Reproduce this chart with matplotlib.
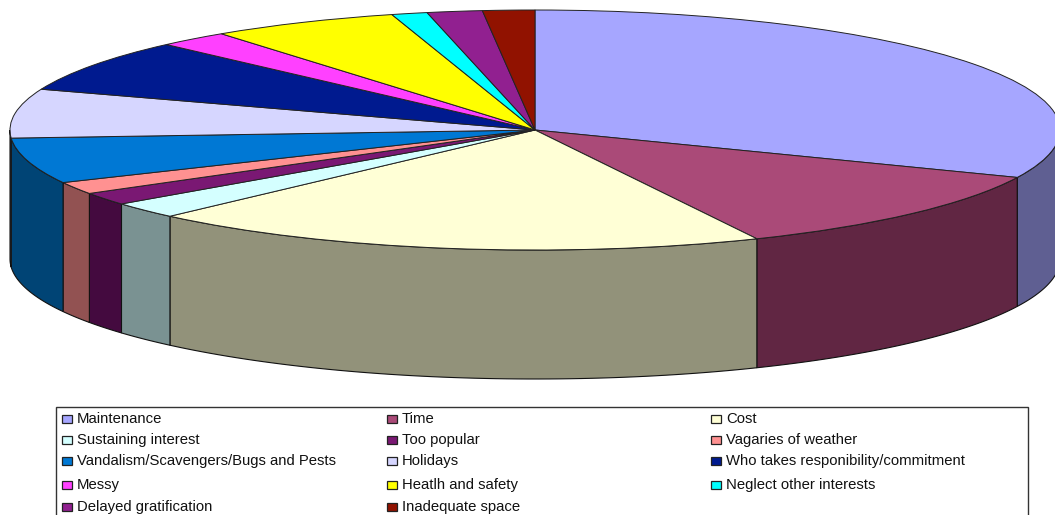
import numpy as np
import matplotlib
matplotlib.use('Agg')
import matplotlib.pyplot as plt
from matplotlib.patches import Rectangle

labels = ['Maintenance', 'Time', 'Cost', 'Sustaining interest', 'Too popular',
          'Vagaries of weather', 'Vandalism/Scavengers/Bugs and Pests', 'Holidays',
          'Who takes responibility/commitment', 'Messy', 'Heatlh and safety',
          'Neglect other interests', 'Delayed gratification', 'Inadequate space']
values = [31.5, 11.6, 19.2, 2.2, 1.7, 1.65, 6.15, 6.6, 7.1, 2.2, 5.8, 1.1, 1.7, 1.6]
top_colors = ['#A6A6FF', '#AA4A78', '#FFFFD6', '#D4FFFF', '#7A1873', '#FF9191', '#0078D4',
              '#D6D6FF', '#001A8F', '#FF40FF', '#FFFF00', '#00FFFF', '#912090', '#911200']
side_colors = ['#5F5F92', '#612643', '#92927A', '#7A9292', '#440A3F', '#925252', '#004475',
               '#7A7A92', '#000F52', '#922492', '#929200', '#009292', '#531252', '#530A00']

# pixel geometry of the disc
cx, cy = 535, 130
rx, ry = 525, 120
depth = 129
W, H = 1055, 515

fig = plt.figure(figsize=(W/100, H/100), dpi=100)
plt.rcParams['font.family'] = ['Liberation Sans', 'DejaVu Sans']

ax = fig.add_axes([0, 0, 1, 1])
ax.pie(values, colors=top_colors, startangle=90, counterclock=False,
       wedgeprops={'edgecolor': '#222222', 'linewidth': 0.7})
ax.set_aspect('auto')
ax.set_xlim(-cx/rx, (W-cx)/rx)
ax.set_ylim((cy-H)/ry, cy/ry)

# side walls, only the front half of the rim shows
d = depth/ry
edges = np.cumsum([0] + values) / sum(values) * 360
for i in range(len(values)):
    a0, a1 = max(edges[i], 90), min(edges[i+1], 270)
    if a1 <= a0:
        continue
    a = np.radians(np.linspace(a0, a1, 60))
    x = np.sin(a)
    y = np.cos(a)
    ax.fill(np.r_[x, x[::-1]], np.r_[y, y[::-1]-d], facecolor=side_colors[i],
            edgecolor='#111111', linewidth=0.8, zorder=0.5)

# legend, drawn by hand because its columns are evenly spaced and the box runs off the image
overlay = fig.add_axes([0, 0, 1, 1])
overlay.set_xlim(0, W)
overlay.set_ylim(H, 0)
overlay.axis('off')
overlay.add_patch(Rectangle((56, 407), 972, 120, facecolor='white', edgecolor='#333333', linewidth=1))
col_x = [62, 387, 711]
row_y = [419, 440, 461, 485, 507]
for i, name in enumerate(labels):
    lx = col_x[i % 3]
    ly = row_y[i // 3]
    overlay.add_patch(Rectangle((lx, ly-4), 10, 8, facecolor=top_colors[i],
                                edgecolor='#222222', linewidth=0.9))
    overlay.text(lx+15, ly, name, fontsize=10.7, va='center', ha='left', color='#111111')

fig.savefig('out.png', dpi=100, facecolor='white')
